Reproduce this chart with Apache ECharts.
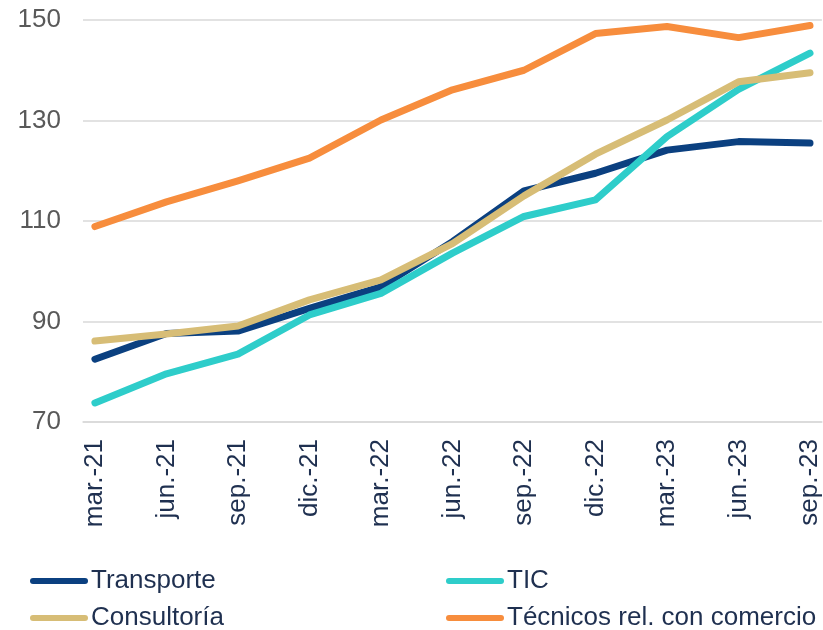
<!DOCTYPE html>
<html>
<head>
<meta charset="utf-8">
<style>
  html, body { margin: 0; padding: 0; background: #fff; }
  #chart { width: 823px; height: 630px; }
</style>
<script src="https://cdn.jsdelivr.net/npm/echarts@6/dist/echarts.min.js"></script>
</head>
<body>
<div id="chart"></div>
<script>
// quarterly points, shown on a monthly axis (ticks every 3 months)
const quarterLabels = ['mar.-21', 'jun.-21', 'sep.-21', 'dic.-21', 'mar.-22', 'jun.-22',
  'sep.-22', 'dic.-22', 'mar.-23', 'jun.-23', 'sep.-23']
const monthAbbr = ['ene.', 'feb.', 'mar.', 'abr.', 'may.', 'jun.', 'jul.', 'ago.', 'sep.', 'oct.', 'nov.', 'dic.']

const transporte = [82.5, 87.6, 88.1, 92.6, 96.9, 105.9, 116.0, 119.5, 124.1, 125.8, 125.5]
const tic = [73.8, 79.6, 83.5, 91.3, 95.6, 103.6, 110.9, 114.2, 126.8, 136.2, 143.4]
const consultoria = [86.1, 87.5, 89.1, 94.3, 98.3, 105.5, 115.0, 123.3, 130.1, 137.7, 139.5]
const tecnicos = [108.9, 113.8, 118.0, 122.5, 130.1, 136.1, 140.0, 147.3, 148.7, 146.5, 148.9]

const yTicks = [70, 90, 110, 130, 150]

// monthly categories mar.-21 .. sep.-23
const months = []
for (let i = 0; i < 31; i++) {
  const m = (2 + i) % 12
  const y = 21 + Math.floor((2 + i) / 12)
  months.push(monthAbbr[m] + '-' + y)
}

const font = 'Liberation Sans, Arial, sans-serif'
const textColor = '#1f3050'
const capsule = 'path://M3,0 L55,0 A3,3 0 0 1 55,6 L3,6 A3,3 0 0 1 3,0 Z'

function makeSeries(name, values, color) {
  return {
    name: name,
    type: 'line',
    data: quarterLabels.map((q, i) => [q, values[i]]),
    symbol: 'none',
    lineStyle: { width: 7, color: color, cap: 'round', join: 'round' },
    itemStyle: { color: color },
    animation: false
  }
}

function makeLegend(left, names) {
  return {
    orient: 'vertical',
    left: left,
    top: 566,
    height: 100,
    padding: 0,
    itemWidth: 58,
    itemHeight: 6,
    itemGap: 7,
    icon: capsule,
    data: names,
    textStyle: { fontFamily: font, fontSize: 26, color: textColor, lineHeight: 30, padding: [0, 0, 0, -2] }
  }
}

const chart = echarts.init(document.getElementById('chart'))

chart.setOption({
  backgroundColor: '#fff',
  grid: { left: 83, right: 1, top: 20, bottom: 208, containLabel: false },
  legend: [
    makeLegend(30, ['Transporte', 'Consultoría']),
    makeLegend(446, ['TIC', 'Técnicos rel. con comercio'])
  ],
  xAxis: {
    type: 'category',
    data: months,
    boundaryGap: true,
    axisLine: { lineStyle: { color: '#d9d9d9', width: 1.5 } },
    axisTick: { interval: 2, length: 8, lineStyle: { color: '#d9d9d9', width: 1.5 } },
    axisLabel: {
      interval: 2,
      rotate: 90,
      margin: 17,
      fontFamily: font,
      fontSize: 26,
      color: textColor
    },
    splitLine: { show: false }
  },
  yAxis: {
    type: 'value',
    min: yTicks[0],
    max: yTicks[yTicks.length - 1],
    interval: 20,
    axisLine: { show: false },
    axisTick: { show: false },
    axisLabel: { margin: 22, fontFamily: font, fontSize: 26, color: '#595959' },
    splitLine: { lineStyle: { color: '#d9d9d9', width: 1.5 } }
  },
  series: [
    makeSeries('Transporte', transporte, '#0b4080'),
    makeSeries('TIC', tic, '#2ecdca'),
    makeSeries('Consultoría', consultoria, '#d7bd76'),
    makeSeries('Técnicos rel. con comercio', tecnicos, '#f78d3d')
  ]
})
</script>
</body>
</html>
